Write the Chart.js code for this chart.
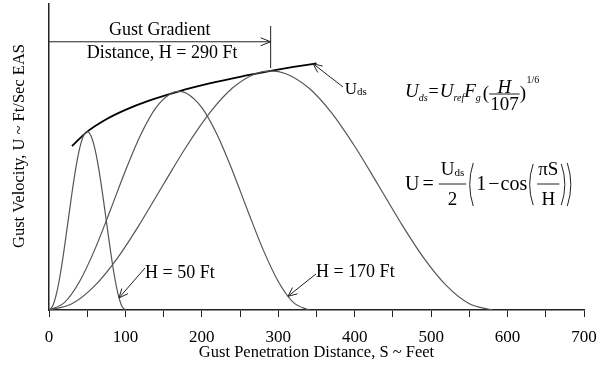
<!DOCTYPE html>
<html>
<head>
<meta charset="utf-8">
<script src="https://cdn.jsdelivr.net/npm/chart.js@4.4.1/dist/chart.umd.min.js"></script>
<style>
  html, body { margin: 0; padding: 0; background: #fff; }
</style>
</head>
<body>
<canvas id="c" width="597" height="376"></canvas>
<script>
// Gust penetration distance S (ft) and gust velocity U for each 1-cosine gust
const sH50  = [0, 5, 10, 15, 20, 25, 30, 35, 40, 45, 50, 55, 60, 65, 70, 75, 80, 85, 90, 95, 100];
const uH50  = [0, 0.91, 3.56, 7.69, 12.89, 18.65, 24.41, 29.61, 33.74, 36.39, 37.3,
               36.39, 33.74, 29.61, 24.41, 18.65, 12.89, 7.69, 3.56, 0.91, 0];

const sH170 = [0, 20, 40, 60, 80, 100, 120, 140, 160, 170, 180, 200, 220, 240, 260, 280, 300, 320, 340];
const uH170 = [0, 1.54, 5.97, 12.68, 20.76, 29.13, 36.65, 42.32, 45.35, 45.74,
               45.35, 42.32, 36.65, 29.13, 20.76, 12.68, 5.97, 1.54, 0];

const sH290 = [0, 30, 60, 90, 120, 150, 180, 210, 240, 270, 290, 310, 340, 370, 400, 430, 460, 490, 520, 550, 580];
const uH290 = [0, 1.31, 5.10, 10.97, 18.31, 26.35, 34.25, 41.18, 46.42, 49.42, 50,
               49.42, 46.42, 41.18, 34.25, 26.35, 18.31, 10.97, 5.10, 1.31, 0];

// Design gust velocity envelope Uds versus gradient distance H
const sEnv  = [30, 50, 75, 100, 130, 170, 210, 250, 290, 320, 350];
const uEnv  = [34.26, 37.30, 39.91, 41.87, 43.74, 45.74, 47.38, 48.78, 50, 50.83, 51.59];

// Labelled distance ticks
const xTickLabels = [0, 100, 200, 300, 400, 500, 600, 700];

const xTitle = 'Gust Penetration Distance, S ~ Feet';
const yTitle = 'Gust Velocity, U ~ Ft/Sec EAS';

const SERIF = '"Liberation Serif", "Times New Roman", serif';
const fnt = (size, italic) => (italic ? 'italic ' : '') + size + 'px ' + SERIF;

const pts = (xs, ys) => xs.map((x, i) => ({ x: x, y: ys[i] }));

function arrowHead(ctx, x0, y0, x1, y1, len, half) {
  const a = Math.atan2(y1 - y0, x1 - x0);
  const c = Math.cos(a), s = Math.sin(a);
  ctx.beginPath();
  ctx.moveTo(x1 - len * c + half * s, y1 - len * s - half * c);
  ctx.lineTo(x1, y1);
  ctx.lineTo(x1 - len * c - half * s, y1 - len * s + half * c);
  ctx.stroke();
}

function line(ctx, x0, y0, x1, y1) {
  ctx.beginPath();
  ctx.moveTo(x0, y0);
  ctx.lineTo(x1, y1);
  ctx.stroke();
}

function txt(ctx, s, x, y, size, italic, align) {
  ctx.font = fnt(size, italic);
  ctx.textAlign = align || 'left';
  ctx.textBaseline = 'alphabetic';
  ctx.fillText(s, x, y);
  return x + ctx.measureText(s).width;
}

function wid(ctx, s, size, italic) {
  ctx.font = fnt(size, italic);
  return ctx.measureText(s).width;
}

// tall bracket drawn as a curve; dir = 1 opens right "(", dir = -1 opens left ")"
function bracket(ctx, x, yTop, yBot, dir) {
  ctx.beginPath();
  ctx.moveTo(x + dir * 3, yTop);
  ctx.quadraticCurveTo(x - dir * 4, (yTop + yBot) / 2, x + dir * 3, yBot);
  ctx.stroke();
}

const notes = {
  id: 'notes',
  afterDatasetsDraw(chart) {
    const ctx = chart.ctx;
    const xs = chart.scales.x, ys = chart.scales.y;
    const P = (s, u) => [xs.getPixelForValue(s), ys.getPixelForValue(u)];
    ctx.save();
    ctx.fillStyle = '#000';
    ctx.strokeStyle = '#222';
    ctx.lineWidth = 1;

    // vertical axis title
    ctx.save();
    ctx.translate(20, 146);
    ctx.rotate(-Math.PI / 2);
    ctx.font = fnt(16.5);
    ctx.textAlign = 'center';
    ctx.textBaseline = 'middle';
    ctx.fillText(yTitle, 0, 0);
    ctx.restore();

    // gust gradient distance dimension
    const [gx0, gy] = P(0, 56.1);
    const [gx1] = P(290, 0);
    const [, vTop] = P(290, 59.4);
    const [, vBot] = P(290, 50.6);
    line(ctx, gx0, gy, gx1, gy);
    arrowHead(ctx, gx0, gy, gx1, gy, 10, 4);
    line(ctx, gx1, vTop, gx1, vBot);
    ctx.textBaseline = 'middle';
    ctx.textAlign = 'center';
    ctx.font = fnt(18);
    let [tx, ty] = P(145, 58.6);
    ctx.fillText('Gust Gradient', tx, ty);
    [tx, ty] = P(148, 53.8);
    ctx.fillText('Distance, H = 290 Ft', tx, ty);

    // leader arrows to the curves
    const leaders = [
      [125.6, 8.79, 91.6, 2.53],
      [349.3, 7.53, 312.7, 2.87],
      [384.7, 46.65, 345.5, 51.5]
    ];
    leaders.forEach(([s0, u0, s1, u1]) => {
      const [a0, b0] = P(s0, u0), [a1, b1] = P(s1, u1);
      line(ctx, a0, b0, a1, b1);
      arrowHead(ctx, a0, b0, a1, b1, 9, 4);
    });

    ctx.textAlign = 'left';
    ctx.textBaseline = 'middle';
    ctx.font = fnt(18);
    [tx, ty] = P(125.6, 7.74);
    ctx.fillText('H = 50 Ft', tx, ty);
    [tx, ty] = P(349.3, 7.95);
    ctx.fillText('H = 170 Ft', tx, ty);

    // Uds label at the end of the envelope
    [tx, ty] = P(387, 45.2);
    let x = txt(ctx, 'U', tx, ty, 17);
    txt(ctx, 'ds', x, ty + 1, 11);

    // design gust velocity formula
    let B = 96.5;
    x = 405;
    x = txt(ctx, 'U', x, B, 19, true);
    x = txt(ctx, 'ds', x, B + 4, 10, true);
    x = txt(ctx, '=', x + 1, B, 18);
    x = txt(ctx, 'U', x + 1, B, 19, true);
    x = txt(ctx, 'ref', x, B + 4, 10, true);
    x = txt(ctx, 'F', x, B, 19, true);
    x = txt(ctx, 'g', x, B + 4, 10, true);
    x = txt(ctx, '(', x + 2, B + 2, 19);
    let w = wid(ctx, '107', 19);
    txt(ctx, 'H', x + 1 + w / 2, B - 4, 19, true, 'center');
    txt(ctx, '107', x + 1 + w / 2, B + 13.5, 19, false, 'center');
    line(ctx, x, B - 2.5, x + w + 2, B - 2.5);
    x = txt(ctx, ')', x + w + 2, B + 2, 19);
    txt(ctx, '1/6', x + 0.5, B - 14, 10);

    // one-minus-cosine gust shape formula
    B = 190;
    x = 405;
    x = txt(ctx, 'U', x, B, 20);
    x = txt(ctx, '=', x + 3, B, 20);
    const fx = x + 5;
    const wN = wid(ctx, 'U', 19) + wid(ctx, 'ds', 11);
    const wF = wN + 4;
    line(ctx, fx, 184, fx + wF, 184);
    let nx = txt(ctx, 'U', fx + 2, 175, 19);
    txt(ctx, 'ds', nx, 176, 11);
    txt(ctx, '2', fx + wF / 2, 205, 19, false, 'center');
    x = fx + wF + 4;
    bracket(ctx, x, 163, 206, 1);
    x = txt(ctx, '1', x + 6, B, 20);
    x = txt(ctx, '\u2212', x + 2, B, 20);
    x = txt(ctx, 'cos', x + 1, B, 20);
    x += 3;
    bracket(ctx, x, 164, 205, 1);
    const wP = wid(ctx, '\u03c0S', 19) + 2;
    const px = x + 7;
    line(ctx, px, 184, px + wP, 184);
    txt(ctx, '\u03c0S', px + wP / 2, 175, 19, false, 'center');
    txt(ctx, 'H', px + wP / 2, 205, 19, false, 'center');
    x = px + wP + 5;
    bracket(ctx, x, 164, 205, -1);
    bracket(ctx, x + 6, 163, 206, -1);

    ctx.restore();
  }
};

new Chart(document.getElementById('c'), {
  type: 'line',
  data: {
    datasets: [
      { data: pts(sH50, uH50),   borderColor: '#555', borderWidth: 1.2 },
      { data: pts(sH170, uH170), borderColor: '#555', borderWidth: 1.2 },
      { data: pts(sH290, uH290), borderColor: '#555', borderWidth: 1.2 },
      { data: pts(sEnv, uEnv),   borderColor: '#000', borderWidth: 1.8 }
    ]
  },
  options: {
    responsive: false,
    animation: false,
    events: [],
    elements: {
      point: { radius: 0 },
      line: { cubicInterpolationMode: 'monotone', fill: false }
    },
    layout: { padding: { top: 4, right: 13, left: 0, bottom: 0 } },
    plugins: { legend: { display: false }, tooltip: { enabled: false } },
    scales: {
      x: {
        type: 'linear',
        min: 0,
        max: 700,
        afterFit: (s) => { s.height = 66; s.paddingLeft = 0; s.paddingRight = 0; },
        ticks: {
          stepSize: 50,
          autoSkip: false,
          maxRotation: 0,
          padding: 10,
          color: '#000',
          font: { family: SERIF, size: 17 },
          callback: (v) => xTickLabels.includes(v) ? String(v) : ''
        },
        grid: { drawOnChartArea: false, drawTicks: true, tickLength: 7, color: '#222' },
        border: { display: true, color: '#222', width: 1.5 },
        title: {
          display: true,
          text: xTitle,
          color: '#000',
          font: { family: SERIF, size: 16.5 },
          padding: { top: 0, bottom: 13 }
        }
      },
      y: {
        type: 'linear',
        min: 0,
        max: 64,
        afterFit: (s) => { s.width = 49; },
        ticks: { display: false },
        grid: { display: false },
        border: { display: true, color: '#222', width: 1.5 }
      }
    }
  },
  plugins: [notes]
});
</script>
</body>
</html>
